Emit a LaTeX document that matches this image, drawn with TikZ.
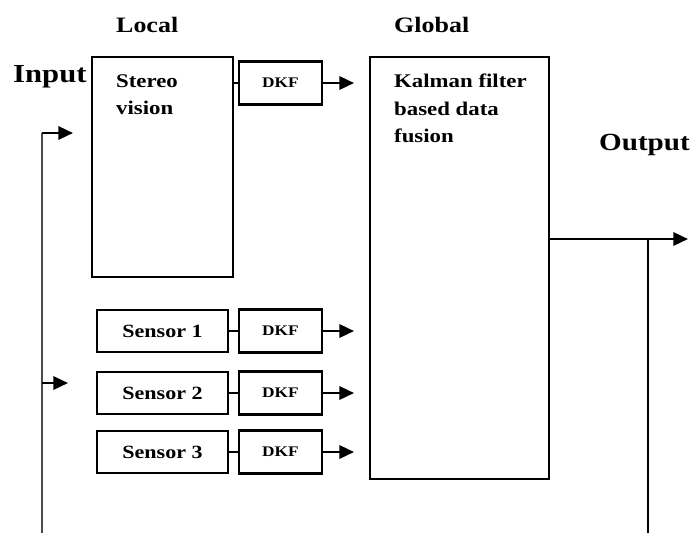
\documentclass[tikz,border=0pt]{standalone}
\usepackage{fontspec}
\setmainfont{Liberation Serif}[FakeStretch=1.18]
\usetikzlibrary{arrows.meta}

\begin{document}
\begin{tikzpicture}[x=.75pt,y=-.75pt,>={Triangle[length=11pt,width=10pt]},line width=1.8pt,
  box/.style={draw,line width=2pt,inner sep=0pt},
  dkfbox/.style={box,minimum width=62.25pt,minimum height=32.5pt,font=\bfseries\fontsize{11}{13}\selectfont},
  sensbox/.style={box,minimum width=98.25pt,minimum height=31.5pt,font=\bfseries\fontsize{14}{16}\selectfont},
  head/.style={inner sep=0pt,anchor=base west,font=\bfseries\fontsize{16.5}{19}\selectfont},
  io/.style={inner sep=0pt,anchor=base west,font=\bfseries\fontsize{19.5}{22}\selectfont},
  boxtext/.style={inner sep=0pt,anchor=north west,align=left,font=\bfseries\fontsize{14.5}{20.5}\selectfont},
  wire/.style={line width=1.5pt},
  link/.style={line width=1.2pt}]
  \useasboundingbox (0,0) rectangle (695,533);
  % local and global stages
  \node[box,minimum width=105.75pt,minimum height=165pt] (stereo) at (162.5,167) {};
  \node[box,minimum width=134.25pt,minimum height=316.5pt] (kalman) at (459.5,268) {};
  \node[dkfbox] (dkf0) at (280.5,83) {DKF};
  \node[sensbox] (sens1) at (162.5,331) {Sensor 1};
  \node[sensbox] (sens2) at (162.5,393) {Sensor 2};
  \node[sensbox] (sens3) at (162.5,452) {Sensor 3};
  \node[dkfbox] (dkf1) at (280.5,331) {DKF};
  \node[dkfbox] (dkf2) at (280.5,393) {DKF};
  \node[dkfbox] (dkf3) at (280.5,452) {DKF};
  \node[boxtext] (stereotxt) at (115,73) {Stereo\\vision};
  \node[boxtext] (kalmantxt) at (393,73) {Kalman filter\\based data\\fusion};
  \node[head] (local) at (115,32) {Local};
  \node[head] (global) at (393,32) {Global};
  \node[io] (input) at (12,82) {Input};
  \node[io,anchor=base east,font=\bfseries\fontsize{18.5}{22}\selectfont] (output) at (691,150) {Output};
  % wires
  \coordinate (inbase) at (42,533);
  \coordinate (intop) at (42,133);
  \coordinate (inmid) at (42,383);
  \coordinate (in1) at (73,133);
  \coordinate (in2) at (68,383);
  \coordinate (outend) at (688,239);
  \coordinate (outbase) at (648,533);
  \draw[wire,gray!60!black] (inbase)--(intop);
  \draw[->] (intop)--(in1);
  \draw[->] (inmid)--(in2);
  \draw[link] (stereo.east |- dkf0)--(dkf0.west);
  \draw[link] (sens1)--(dkf1);
  \draw[link] (sens2)--(dkf2);
  \draw[link] (sens3)--(dkf3);
  \draw[->,shorten >=11pt] (dkf0.east)--(dkf0 -| kalman.west);
  \draw[->,shorten >=11pt] (dkf1.east)--(dkf1 -| kalman.west);
  \draw[->,shorten >=11pt] (dkf2.east)--(dkf2 -| kalman.west);
  \draw[->,shorten >=11pt] (dkf3.east)--(dkf3 -| kalman.west);
  \draw[->] (kalman.east |- outend)--(outend);
  \draw[wire] (outbase |- outend)--(outbase);
\end{tikzpicture}
\end{document}
